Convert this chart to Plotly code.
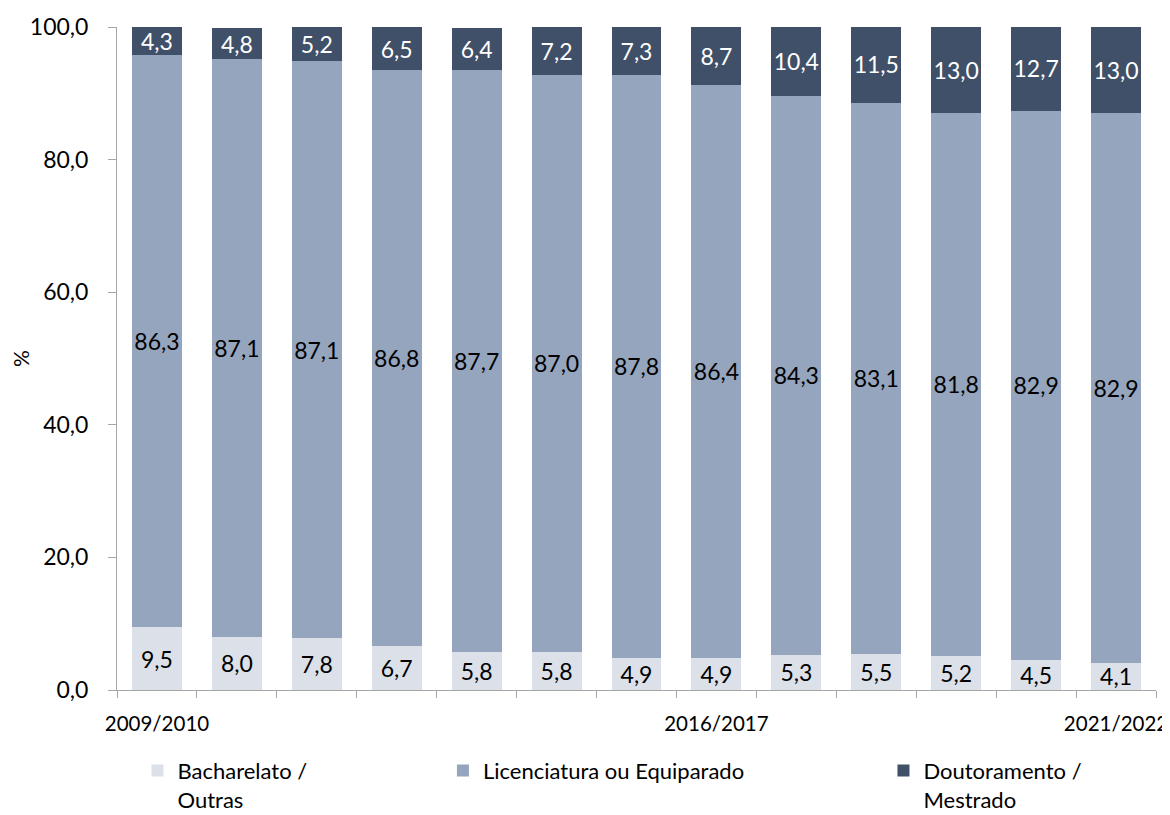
import plotly.graph_objects as go

anos = ["2009/2010", "2010/2011", "2011/2012", "2012/2013", "2013/2014", "2014/2015",
        "2015/2016", "2016/2017", "2017/2018", "2018/2019", "2019/2020", "2020/2021",
        "2021/2022"]
bacharelato = [9.5, 8.0, 7.8, 6.7, 5.8, 5.8, 4.9, 4.9, 5.3, 5.5, 5.2, 4.5, 4.1]
licenciatura = [86.3, 87.1, 87.1, 86.8, 87.7, 87.0, 87.8, 86.4, 84.3, 83.1, 81.8, 82.9, 82.9]
doutoramento = [4.3, 4.8, 5.2, 6.5, 6.4, 7.2, 7.3, 8.7, 10.4, 11.5, 13.0, 12.7, 13.0]
rotulos_x = ["2009/2010", "", "", "", "", "", "", "2016/2017", "", "", "", "", "2021/2022"]

FONT = "Lato"

fig = go.Figure()

# (nome, valores, cor, cor do texto, legenda)
series = [
    ("Bacharelato /<br>Outras", bacharelato, "#DCE1E9", "black", "legend"),
    ("Licenciatura ou Equiparado", licenciatura, "#94A5BD", "black", "legend2"),
    ("Doutoramento /<br>Mestrado", doutoramento, "#3F5068", "white", "legend3"),
]

for nome, vals, cor, cor_txt, leg in series:
    fig.add_trace(go.Bar(
        x=anos, y=vals, name=nome,
        marker=dict(color=cor, line=dict(width=0)),
        text=[f"{v:.1f}".replace(".", ",") for v in vals],
        textposition="inside",
        insidetextanchor="middle",
        textangle=0,
        textfont=dict(family=FONT, size=23, color=cor_txt),
        legend=leg,
    ))

leg_style = dict(orientation="h", yanchor="top", y=-0.09, xanchor="left",
                 valign="top", tracegroupgap=0,
                 font=dict(family=FONT, size=22, color="black"),
                 bgcolor="rgba(0,0,0,0)")

# a página tem margem de 8px no body: a figura fica 8px mais pequena
fig.update_layout(
    barmode="stack",
    bargap=0.375,
    width=1162, height=807,
    margin=dict(l=109, r=14, t=19, b=125, autoexpand=False),
    paper_bgcolor="white",
    plot_bgcolor="white",
    separators=",.",
    showlegend=True,
    font=dict(family=FONT, color="black"),
    uniformtext=dict(minsize=23, mode="show"),
    legend=dict(x=0.0197, **leg_style),
    legend2=dict(x=0.3137, **leg_style),
    legend3=dict(x=0.7377, **leg_style),
    xaxis=dict(
        tickmode="array", tickvals=anos, ticktext=rotulos_x, tickangle=0,
        tickson="boundaries", ticks="outside", ticklen=7, automargin=False,
        ticklabelstandoff=15,
        tickcolor="#A6A6A6", showline=True, linecolor="#A6A6A6",
        tickfont=dict(family=FONT, size=20.5, color="black"),
        showgrid=False,
    ),
    yaxis=dict(
        range=[0, 100], tickmode="array", tickvals=[0, 20, 40, 60, 80, 100],
        tickformat=".1f", ticks="outside", ticklen=8, tickcolor="#A6A6A6",
        ticklabelstandoff=15, automargin=False,
        showline=True, linecolor="#A6A6A6", showgrid=False, zeroline=False,
        tickfont=dict(family=FONT, size=23, color="black"),
        title=dict(text="%", font=dict(family=FONT, size=21, color="black"), standoff=0),
    ),
)

fig.write_html("out.html")
